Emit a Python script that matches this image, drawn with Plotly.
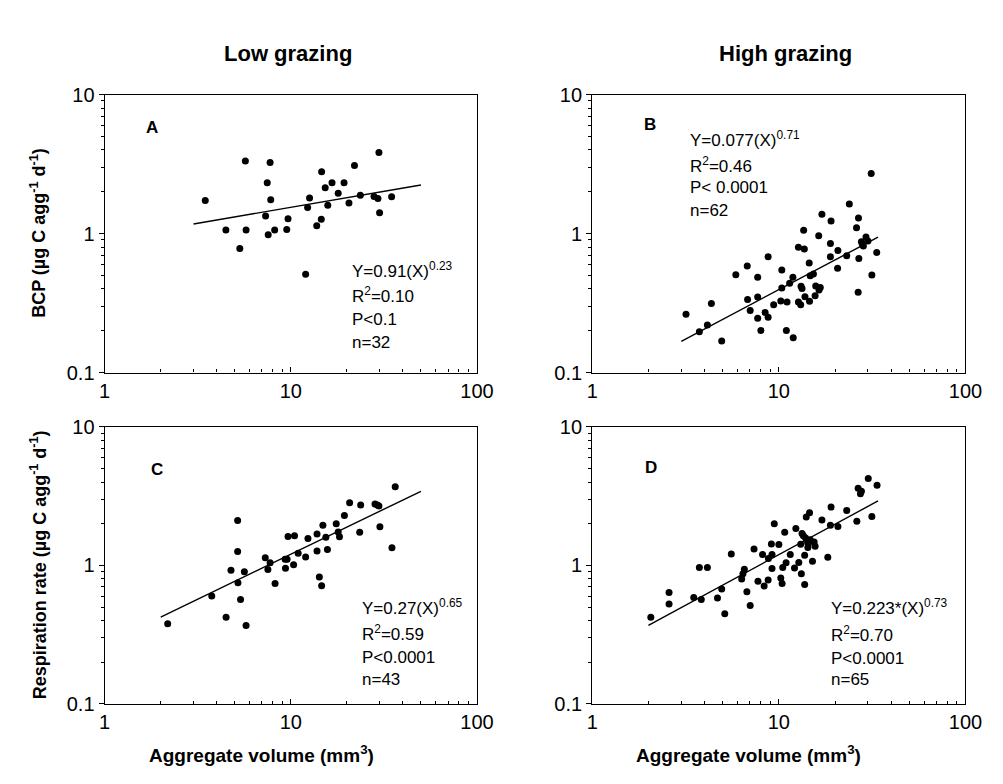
import plotly.graph_objects as go

W, H = 1003, 784

# ---------------- data ----------------
a_x = [3.47, 4.48, 5.32, 5.70, 5.75, 7.32, 7.47, 7.56, 7.74, 7.80, 8.19, 9.51, 9.66, 12.01, 12.31, 12.61,
       13.78, 14.58, 14.64, 15.30, 15.80, 16.65, 17.97, 19.32, 20.53, 21.98, 23.63, 27.99, 29.38, 29.74,
       29.98, 34.80]
a_y = [1.73, 1.06, 0.78, 3.33, 1.06, 1.34, 2.32, 0.98, 3.24, 1.75, 1.06, 1.07, 1.28, 0.51, 1.54, 1.80,
       1.14, 1.27, 2.79, 2.14, 1.60, 2.32, 1.95, 2.32, 1.66, 3.09, 1.89, 1.85, 1.79, 3.83, 1.41, 1.84]

b_x = [3.18, 3.75, 4.14, 4.35, 4.94, 5.88, 6.77, 6.80, 7.02, 7.70, 7.70, 7.70, 8.01, 8.44, 8.76, 8.76,
       9.38, 10.37, 10.37, 10.24, 11.06, 10.97, 11.42, 11.89, 11.94, 12.73, 12.73, 13.09, 13.15, 13.31,
       13.58, 13.69, 13.80, 14.54, 14.60, 14.72, 15.32, 15.64, 15.76, 16.35, 16.41, 16.67, 17.01, 18.89,
       18.89, 19.04, 20.64, 20.72, 23.10, 23.86, 26.07, 26.71, 26.60, 26.82, 27.69, 28.37, 29.30, 30.01,
       31.25, 31.50, 33.45, 28.03]
b_y = [0.263, 0.197, 0.220, 0.314, 0.169, 0.506, 0.585, 0.336, 0.280, 0.485, 0.349, 0.246, 0.201, 0.271,
       0.250, 0.680, 0.307, 0.548, 0.406, 0.327, 0.322, 0.201, 0.440, 0.485, 0.178, 0.798, 0.322, 0.307,
       0.417, 0.402, 1.055, 0.773, 0.351, 0.614, 0.326, 0.498, 0.511, 0.357, 0.419, 0.963, 0.393, 0.410,
       1.380, 0.847, 0.680, 1.233, 0.563, 0.756, 0.694, 1.630, 1.102, 1.294, 0.379, 0.662, 0.874, 0.815,
       0.943, 0.884, 2.71, 0.503, 0.732, 0.838]

c_x = [2.18, 3.76, 4.49, 4.77, 5.18, 5.18, 5.20, 5.37, 5.63, 5.75, 7.29, 7.53, 7.74, 8.23, 9.32, 9.36,
       9.55, 9.66, 10.35, 10.47, 10.95, 12.01, 12.36, 13.83, 13.83, 14.23, 14.64, 14.87, 15.42, 15.73,
       17.54, 17.97, 18.26, 19.40, 20.70, 23.45, 23.73, 28.33, 29.74, 30.10, 34.94, 36.38, 29.15]
c_y = [0.380, 0.601, 0.423, 0.925, 2.11, 1.264, 0.750, 0.569, 0.900, 0.368, 1.135, 0.935, 1.047, 0.742,
       1.111, 0.955, 1.111, 1.620, 1.013, 1.637, 1.224, 1.153, 1.568, 1.691, 1.271, 0.826, 0.714, 1.955,
       1.602, 1.306, 2.00, 1.746, 1.611, 2.30, 2.84, 1.737, 2.73, 2.78, 2.69, 1.904, 1.341, 3.71, 2.73]

d_x = [2.06, 2.58, 2.58, 3.50, 3.75, 3.84, 4.14, 4.69, 4.94, 5.13, 5.56, 6.32, 6.42, 6.53, 6.74, 7.02,
       7.36, 7.73, 8.18, 8.34, 8.76, 8.79, 9.12, 9.19, 9.19, 9.45, 10.0, 10.24, 10.41, 10.49, 10.75, 10.93,
       11.51, 12.13, 12.33, 12.79, 13.09, 13.20, 13.31, 13.53, 13.75, 13.75, 13.91, 14.02, 14.25, 14.30,
       14.60, 14.72, 15.14, 15.45, 15.64, 17.01, 18.29, 18.89, 19.04, 20.72, 23.10, 26.17, 26.60, 27.36,
       27.69, 30.13, 31.50, 33.59, 14.37]
d_y = [0.423, 0.638, 0.528, 0.588, 0.966, 0.567, 0.966, 0.582, 0.677, 0.449, 1.211, 0.800, 0.872, 0.940,
       0.645, 0.514, 1.313, 0.770, 1.198, 0.710, 0.787, 1.123, 1.431, 0.950, 1.198, 2.00, 1.415, 0.813,
       0.742, 0.966, 1.737, 1.047, 1.198, 0.960, 1.853, 1.052, 1.423, 0.872, 1.700, 1.637, 1.185, 0.730,
       1.577, 2.24, 1.470, 1.348, 2.40, 1.535, 1.075, 1.477, 1.378, 2.13, 1.147, 1.955, 2.64, 1.914, 2.50,
       2.09, 3.61, 3.30, 3.44, 4.25, 2.26, 3.79, 1.431]

# regression lines Y = a * X^b drawn over the printed range
fit_a = [0.91, 0.077, 0.27, 0.223]
fit_b = [0.23, 0.71, 0.65, 0.73]
fit_xmin = [3.0, 3.0, 2.0, 2.0]
fit_xmax = [50.0, 34.0, 50.0, 34.0]

panel_letters = ["A", "B", "C", "D"]
stats_text = [
    ["Y=0.91(X)<sup>0.23</sup>", "R<sup>2</sup>=0.10", "P&lt;0.1", "n=32"],
    ["Y=0.077(X)<sup>0.71</sup>", "R<sup>2</sup>=0.46", "P&lt; 0.0001", "n=62"],
    ["Y=0.27(X)<sup>0.65</sup>", "R<sup>2</sup>=0.59", "P&lt;0.0001", "n=43"],
    ["Y=0.223*(X)<sup>0.73</sup>", "R<sup>2</sup>=0.70", "P&lt;0.0001", "n=65"],
]
col_titles = ["Low grazing", "High grazing"]
y_titles = ["BCP (µg C agg<sup>-1</sup> d<sup>-1</sup>)",
            "Respiration rate (µg C agg<sup>-1</sup> d<sup>-1</sup>)"]
x_title = "Aggregate volume (mm<sup>3</sup>)"

x_major = [1, 10, 100]
x_major_text = ["1", "10", "100"]
x_minor = [2, 3, 4, 5, 6, 7, 8, 9, 20, 30, 40, 50, 60, 70, 80, 90]
y_major = [0.1, 1, 10]
y_major_text = ["0.1", "1", "10"]
y_minor = [0.2, 0.3, 0.4, 0.5, 0.6, 0.7, 0.8, 0.9, 2, 3, 4, 5, 6, 7, 8, 9]

# ---------------- layout geometry (pixels) ----------------
px_x = [(101, 482), (600, 982), (101, 482), (600, 982)]
px_y = [(86, 372), (86, 372), (428, 713), (428, 713)]

FONT = "Liberation Sans, Arial, sans-serif"

fig = go.Figure()
xs = [a_x, b_x, c_x, d_x]
ys = [a_y, b_y, c_y, d_y]

for i in range(4):
    xa = "x" if i == 0 else f"x{i+1}"
    ya = "y" if i == 0 else f"y{i+1}"
    fig.add_trace(go.Scatter(x=xs[i], y=ys[i], mode="markers", xaxis=xa, yaxis=ya,
                             marker=dict(color="black", size=7, line=dict(width=0)),
                             showlegend=False, hoverinfo="x+y"))
    fx = [fit_xmin[i], fit_xmax[i]]
    fy = [fit_a[i] * v ** fit_b[i] for v in fx]
    fig.add_trace(go.Scatter(x=fx, y=fy, mode="lines", xaxis=xa, yaxis=ya,
                             line=dict(color="black", width=1.4), showlegend=False,
                             hoverinfo="skip"))

layout = dict(width=W, height=H, margin=dict(l=0, r=0, t=0, b=0),
              paper_bgcolor="white", plot_bgcolor="white",
              font=dict(family=FONT, color="black"))

for i in range(4):
    xk = "xaxis" if i == 0 else f"xaxis{i+1}"
    yk = "yaxis" if i == 0 else f"yaxis{i+1}"
    ya_name = "y" if i == 0 else f"y{i+1}"
    xa_name = "x" if i == 0 else f"x{i+1}"
    x0, x1 = px_x[i]
    y0, y1 = px_y[i]
    layout[xk] = dict(type="log", range=[0, 2], domain=[x0 / W, x1 / W], anchor=ya_name,
                      showline=True, linecolor="black", linewidth=1.3, mirror=True,
                      ticks="inside", ticklen=5, tickwidth=1, tickcolor="black",
                      tickmode="array", tickvals=x_major, ticktext=x_major_text,
                      minor=dict(tickmode="array", tickvals=x_minor, ticks="inside",
                                 ticklen=3, tickwidth=1, tickcolor="black", showgrid=False),
                      tickfont=dict(size=20, family=FONT, color="black"),
                      showgrid=False, zeroline=False)
    layout[yk] = dict(type="log", range=[-1, 1], domain=[1 - y1 / H, 1 - y0 / H], anchor=xa_name,
                      showline=True, linecolor="black", linewidth=1.3, mirror=True,
                      ticks="outside", ticklen=5, tickwidth=1, tickcolor="black",
                      tickmode="array", tickvals=y_major, ticktext=y_major_text,
                      minor=dict(tickmode="array", tickvals=y_minor, ticks="outside",
                                 ticklen=3, tickwidth=1, tickcolor="black", showgrid=False),
                      tickfont=dict(size=20, family=FONT, color="black"),
                      showgrid=False, zeroline=False)

ann = []
# panel letters
letter_pos = [(149, 120), (659, 117), (155, 472), (660, 470)]
for (lx, ly), t in zip(letter_pos, panel_letters):
    ann.append(dict(text=f"<b>{t}</b>", x=lx / W, y=1 - ly / H, xref="paper", yref="paper",
                    xanchor="center", yanchor="middle", showarrow=False,
                    font=dict(size=17, family=FONT, color="black")))

# statistics text blocks
stat_pos = [(352, [266, 292, 317, 341]), (698, [132, 158, 182, 205]),
            (362, [613, 640, 665, 688]), (842, [613, 641, 666, 688])]
for (sx, sys_), lines in zip(stat_pos, stats_text):
    for sy, t in zip(sys_, lines):
        ann.append(dict(text=t, x=sx / W, y=1 - sy / H, xref="paper", yref="paper",
                        xanchor="left", yanchor="middle", showarrow=False,
                        font=dict(size=17, family=FONT, color="black")))

# column titles
for cx, t in zip([289, 798], col_titles):
    ann.append(dict(text=f"<b>{t}</b>", x=cx / W, y=1 - 44 / H, xref="paper", yref="paper",
                    xanchor="center", yanchor="middle", showarrow=False,
                    font=dict(size=22, family=FONT, color="black")))

# y titles (rotated)
for cy, t in zip([229, 570], y_titles):
    ann.append(dict(text=f"<b>{t}</b>", x=33 / W, y=1 - cy / H, xref="paper", yref="paper",
                    xanchor="center", yanchor="middle", textangle=-90, showarrow=False,
                    font=dict(size=18, family=FONT, color="black")))

# x titles
for cx in [262, 760]:
    ann.append(dict(text=f"<b>{x_title}</b>", x=cx / W, y=1 - 764 / H, xref="paper", yref="paper",
                    xanchor="center", yanchor="middle", showarrow=False,
                    font=dict(size=19, family=FONT, color="black")))

layout["annotations"] = ann
fig.update_layout(**layout)

fig.write_html("out.html", config={"displayModeBar": False},
               post_script="document.body.style.margin='0';")
